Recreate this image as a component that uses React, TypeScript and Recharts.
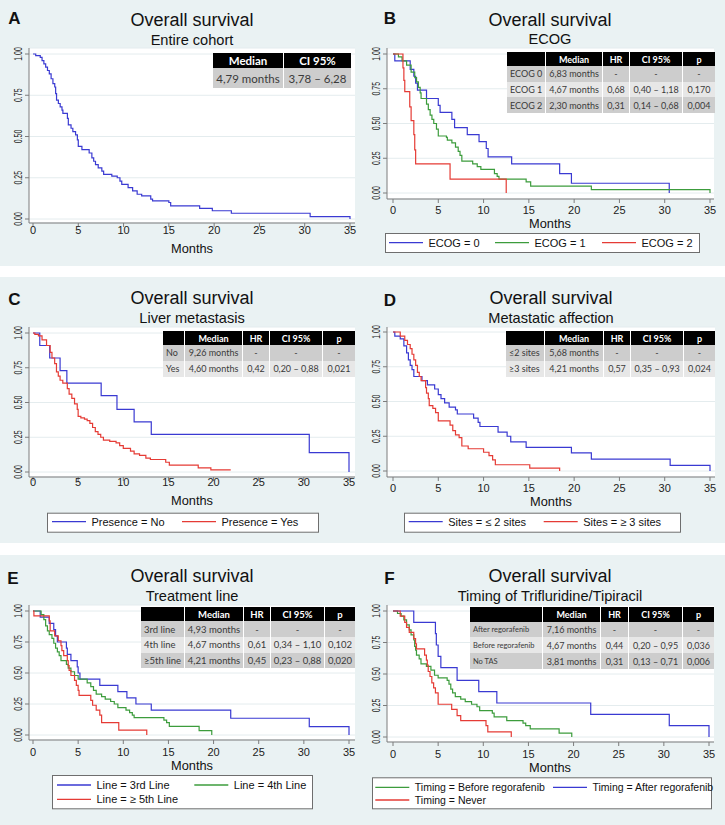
import { CartesianGrid, Line, LineChart, XAxis, YAxis } from 'recharts';

type Pt = [number, number];

const monthTicks = [0, 5, 10, 15, 20, 25, 30, 35];
const survTicks = [0, 0.25, 0.5, 0.75, 1];

// A - entire cohort
const osAll: Pt[] = [
  [0, 1], [0.3, 0.99], [0.8, 0.98], [1.0, 0.96], [1.2, 0.94], [1.4, 0.92], [1.6, 0.9], [1.8, 0.88],
  [2.0, 0.85], [2.2, 0.82], [2.4, 0.8], [2.5, 0.76], [2.6, 0.72], [2.8, 0.7], [3.0, 0.68], [3.2, 0.66],
  [3.3, 0.64], [3.8, 0.61], [3.9, 0.57], [4.2, 0.55], [4.4, 0.53], [4.7, 0.51], [4.9, 0.48], [5.0, 0.44],
  [5.4, 0.42], [6.2, 0.4], [6.5, 0.37], [6.7, 0.35], [6.9, 0.33], [7.2, 0.31], [7.6, 0.29], [7.8, 0.27],
  [8.7, 0.26], [9.3, 0.25], [9.6, 0.23], [9.8, 0.21], [10.5, 0.19], [11.0, 0.17], [11.5, 0.15], [12.0, 0.14],
  [13.0, 0.12], [13.2, 0.11], [15.0, 0.1], [15.2, 0.08], [18.4, 0.065], [19.8, 0.05], [21.9, 0.035],
  [30.6, 0.015], [35, 0.015], [35, 0],
];

// B - ECOG
const ecog0: Pt[] = [
  [0, 1], [0.2, 0.95], [1.9, 0.89], [2.3, 0.84], [2.5, 0.79], [2.7, 0.74], [3.7, 0.68], [5.0, 0.63],
  [5.2, 0.58], [6.5, 0.53], [6.8, 0.47], [8.2, 0.42], [9.5, 0.37], [10.3, 0.32], [10.5, 0.26], [13.1, 0.21],
  [18.4, 0.14], [19.7, 0.07], [30.5, 0],
];
const ecog1: Pt[] = [
  [0, 1], [0.6, 0.98], [1.0, 0.95], [1.5, 0.92], [2.0, 0.87], [2.4, 0.83], [2.6, 0.8], [2.8, 0.76],
  [3.0, 0.72], [3.1, 0.68], [3.7, 0.64], [3.9, 0.6], [4.1, 0.56], [4.3, 0.53], [4.5, 0.5], [4.8, 0.46],
  [5.0, 0.41], [5.9, 0.4], [6.0, 0.38], [6.5, 0.36], [6.9, 0.33], [7.2, 0.3], [7.4, 0.27], [7.6, 0.23],
  [8.8, 0.21], [9.3, 0.19], [9.7, 0.17], [11.2, 0.14], [11.5, 0.12], [11.7, 0.1], [14.7, 0.08], [15.2, 0.05],
  [21.9, 0.025], [35, 0],
];
const ecog2: Pt[] = [
  [0, 1], [1.1, 0.9], [1.2, 0.81], [1.3, 0.73], [1.85, 0.62], [2.0, 0.52], [2.3, 0.42], [2.4, 0.31],
  [2.5, 0.21], [6.3, 0.1], [12.5, 0],
];

// C - liver metastasis
const liverNo: Pt[] = [
  [0, 1], [0.75, 0.91], [1.85, 0.82], [3.0, 0.73], [3.75, 0.64], [7.55, 0.55], [9.3, 0.45], [11.2, 0.36],
  [13.1, 0.27], [30.6, 0.14], [35, 0],
];
const liverYes: Pt[] = [
  [0, 1], [0.2, 0.99], [0.6, 0.98], [1.0, 0.95], [1.5, 0.91], [1.9, 0.86], [2.1, 0.82], [2.4, 0.78],
  [2.6, 0.72], [2.8, 0.69], [3.0, 0.66], [3.3, 0.64], [3.8, 0.6], [4.0, 0.56], [4.3, 0.53], [4.6, 0.49],
  [4.9, 0.45], [5.0, 0.4], [5.3, 0.39], [5.7, 0.38], [6.0, 0.37], [6.3, 0.35], [6.6, 0.32], [6.9, 0.29],
  [7.2, 0.27], [7.5, 0.25], [7.8, 0.23], [8.5, 0.22], [9.2, 0.21], [9.6, 0.19], [10.0, 0.17], [10.8, 0.15],
  [11.2, 0.13], [11.8, 0.12], [12.5, 0.1], [13.0, 0.09], [14.7, 0.07], [15.1, 0.05], [18.3, 0.03],
  [19.7, 0.015], [21.9, 0.015],
];

// D - metastatic sites
const sitesLe2: Pt[] = [
  [0, 1], [0.2, 0.97], [0.8, 0.95], [1.2, 0.9], [1.5, 0.85], [1.7, 0.8], [1.9, 0.76], [2.1, 0.73],
  [2.3, 0.68], [3.2, 0.65], [3.8, 0.62], [4.6, 0.59], [5.0, 0.55], [5.3, 0.52], [5.7, 0.49], [6.2, 0.46],
  [6.9, 0.44], [7.1, 0.41], [8.9, 0.38], [9.4, 0.35], [9.6, 0.32], [11.6, 0.28], [12.6, 0.25], [13.0, 0.21],
  [14.7, 0.17], [19.7, 0.13], [21.9, 0.085], [30.6, 0.04], [35, 0],
];
const sitesGe3: Pt[] = [
  [0, 1], [0.8, 0.97], [1.3, 0.94], [1.6, 0.91], [1.9, 0.88], [2.1, 0.84], [2.3, 0.8], [2.5, 0.76],
  [2.7, 0.71], [2.9, 0.68], [3.1, 0.65], [3.6, 0.6], [3.7, 0.56], [3.9, 0.52], [4.0, 0.47], [4.4, 0.45],
  [4.7, 0.42], [5.0, 0.36], [6.3, 0.33], [6.6, 0.29], [6.9, 0.26], [7.3, 0.24], [7.6, 0.18], [8.3, 0.16],
  [10.0, 0.135], [10.6, 0.11], [11.0, 0.08], [11.3, 0.045], [15.1, 0.02], [18.4, 0],
];

// E - treatment line
const line3: Pt[] = [
  [0, 1], [0.8, 0.95], [1.8, 0.9], [2.3, 0.85], [2.5, 0.8], [2.7, 0.75], [3.7, 0.7], [3.8, 0.65],
  [4.2, 0.6], [4.9, 0.55], [5.0, 0.5], [5.2, 0.45], [7.4, 0.4], [9.4, 0.35], [10.4, 0.3], [11.4, 0.25],
  [13.1, 0.2], [21.9, 0.135], [30.6, 0.067], [35, 0],
];
const line4: Pt[] = [
  [0, 1], [0.9, 0.97], [1.2, 0.93], [1.4, 0.88], [1.6, 0.84], [1.8, 0.81], [2.1, 0.78], [2.3, 0.74],
  [2.5, 0.7], [2.7, 0.67], [2.9, 0.64], [3.1, 0.6], [3.7, 0.57], [3.9, 0.54], [4.2, 0.51], [4.6, 0.48],
  [5.0, 0.45], [6.0, 0.42], [6.4, 0.39], [6.7, 0.36], [7.0, 0.33], [7.6, 0.31], [8.0, 0.29], [8.6, 0.27],
  [9.0, 0.25], [9.4, 0.22], [10.3, 0.2], [10.7, 0.18], [11.0, 0.16], [11.2, 0.14], [14.5, 0.12],
  [14.8, 0.1], [15.1, 0.07], [18.4, 0.035], [19.8, 0],
];
const line5: Pt[] = [
  [0, 1], [0.1, 0.96], [1.8, 0.92], [1.9, 0.84], [2.4, 0.8], [2.8, 0.76], [3.1, 0.72], [3.2, 0.68],
  [3.4, 0.64], [3.8, 0.6], [3.9, 0.56], [4.0, 0.52], [4.2, 0.48], [4.6, 0.44], [4.8, 0.4], [5.0, 0.36],
  [5.1, 0.32], [6.4, 0.28], [6.6, 0.24], [7.0, 0.2], [7.4, 0.16], [7.6, 0.1], [9.5, 0.04], [12.6, 0],
];

// F - timing of trifluridine/tipiracil
const tasBefore: Pt[] = [
  [0, 1], [0.5, 0.98], [0.9, 0.96], [1.2, 0.93], [1.5, 0.89], [1.8, 0.85], [2.0, 0.81], [2.3, 0.77],
  [2.4, 0.72], [2.5, 0.69], [2.6, 0.65], [2.9, 0.62], [3.1, 0.58], [3.7, 0.56], [4.2, 0.53], [4.6, 0.49],
  [5.0, 0.47], [6.0, 0.45], [6.2, 0.42], [6.4, 0.38], [6.6, 0.35], [6.9, 0.32], [7.5, 0.3], [8.0, 0.28],
  [8.7, 0.26], [9.3, 0.24], [9.6, 0.21], [11.0, 0.19], [11.2, 0.16], [12.6, 0.13], [14.4, 0.11],
  [14.7, 0.09], [15.2, 0.065], [18.4, 0.03], [19.8, 0],
];
const tasAfter: Pt[] = [
  [0, 1], [2.3, 0.91], [4.7, 0.82], [4.8, 0.73], [5.0, 0.64], [5.3, 0.55], [7.1, 0.45], [9.5, 0.36],
  [11.5, 0.27], [21.9, 0.18], [30.6, 0.09], [35, 0],
];
const tasNever: Pt[] = [
  [0, 1], [0.8, 0.96], [1.3, 0.91], [1.5, 0.87], [1.8, 0.83], [2.3, 0.78], [2.5, 0.74], [2.6, 0.7],
  [3.5, 0.65], [3.7, 0.61], [3.8, 0.57], [3.9, 0.52], [4.1, 0.48], [4.3, 0.43], [4.5, 0.39], [4.7, 0.35],
  [5.0, 0.26], [6.5, 0.22], [7.1, 0.17], [7.5, 0.13], [10.3, 0.09], [10.5, 0.04], [13.1, 0],
];

const BG = '#eaf2f3';
const GRID = '#e4ecee';
const AXIS = '#7c7c7c';
const BLUE = '#3a3ad2';
const GREEN = '#3c9c3c';
const RED = '#e53b35';
const SANS = '"Liberation Sans", Arial, Helvetica, sans-serif';
const TABLE_FONT = 'Lato, "Open Sans", sans-serif';

interface SeriesDef { label: string; color: string; points: Pt[]; lx?: number; ly?: number }
interface TableDef {
  x: number; y: number; cols: number[]; headH: number; rowH: number[];
  head: string[]; rows: string[][]; font: number; firstFont?: number; firstLeft: boolean;
}
interface PanelDef {
  x: number; y: number; w: number; h: number;
  letter: string; letterX: number; letterY: number;
  cx: number; titleY: number; sub: string; subY: number; monthsY: number; tickY: number;
  plot: { l: number; r: number; t: number; b: number; padL: number; padR: number; padT: number; padB: number };
  series: SeriesDef[];
  legend?: { x: number; y: number; w: number; h: number; font: number };
  table: TableDef;
}

const head5 = ['', 'Median', 'HR', 'CI 95%', 'p'];

const panels: PanelDef[] = [
  {
    x: 0, y: 0, w: 362, h: 266, letter: 'A', letterX: 14.5, letterY: 18,
    cx: 192, titleY: 20, sub: 'Entire cohort', subY: 40, monthsY: 248, tickY: 230,
    plot: { l: 29, r: 355, t: 48, b: 223, padL: 4, padR: 5, padT: 6, padB: 4 },
    series: [{ label: 'All', color: BLUE, points: osAll }],
    table: {
      x: 213, y: 53, cols: [71, 67], headH: 15, rowH: [20], head: ['Median', 'CI 95%'],
      rows: [['4,79 months', '3,78 – 6,28']], font: 11.5, firstLeft: false,
    },
  },
  {
    x: 362, y: 0, w: 363, h: 266, letter: 'B', letterX: 28, letterY: 18.3,
    cx: 188, titleY: 20, sub: 'ECOG', subY: 39, monthsY: 223, tickY: 209.5,
    plot: { l: 25, r: 352, t: 48, b: 199, padL: 6, padR: 4, padT: 6, padB: 6 },
    series: [
      { label: 'ECOG = 0', color: BLUE, points: ecog0, lx: 27, ly: 242.7 },
      { label: 'ECOG = 1', color: GREEN, points: ecog1, lx: 133, ly: 242.7 },
      { label: 'ECOG = 2', color: RED, points: ecog2, lx: 240, ly: 242.7 },
    ],
    legend: { x: 23, y: 233, w: 314, h: 19, font: 11 },
    table: {
      x: 145, y: 52, cols: [39, 57, 27, 53, 32], headH: 14, rowH: [15.5, 15.5, 16], head: head5,
      rows: [
        ['ECOG 0', '6,83 months', '-', '-', '-'],
        ['ECOG 1', '4,67 months', '0,68', '0,40 – 1,18', '0,170'],
        ['ECOG 2', '2,30 months', '0,31', '0,14 – 0,68', '0,004'],
      ],
      font: 9, firstLeft: true,
    },
  },
  {
    x: 0, y: 277, w: 362, h: 266, letter: 'C', letterX: 14.5, letterY: 22,
    cx: 192, titleY: 21.3, sub: 'Liver metastasis', subY: 41, monthsY: 223.3, tickY: 205.3,
    plot: { l: 29, r: 355, t: 50, b: 200, padL: 4, padR: 6, padT: 6, padB: 5 },
    series: [
      { label: 'Presence = No', color: BLUE, points: liverNo, lx: 52, ly: 244.7 },
      { label: 'Presence = Yes', color: RED, points: liverYes, lx: 182, ly: 244.7 },
    ],
    legend: { x: 47, y: 235.7, w: 271, h: 19, font: 11 },
    table: {
      x: 163, y: 54, cols: [22, 58, 27, 53, 32], headH: 14, rowH: [15.5, 16], head: head5,
      rows: [
        ['No', '9,26 months', '-', '-', '-'],
        ['Yes', '4,60 months', '0,42', '0,20 – 0,88', '0,021'],
      ],
      font: 9, firstLeft: true,
    },
  },
  {
    x: 362, y: 277, w: 363, h: 266, letter: 'D', letterX: 28, letterY: 23.5,
    cx: 189, titleY: 21, sub: 'Metastatic affection', subY: 40.7, monthsY: 224, tickY: 210.5,
    plot: { l: 25, r: 353, t: 50, b: 200, padL: 6, padR: 5, padT: 5, padB: 6 },
    series: [
      { label: 'Sites = ≤ 2 sites', color: BLUE, points: sitesLe2, lx: 46.7, ly: 244.7 },
      { label: 'Sites = ≥ 3 sites', color: RED, points: sitesGe3, lx: 181.7, ly: 244.7 },
    ],
    legend: { x: 42, y: 235.7, w: 276, h: 19, font: 11 },
    table: {
      x: 144, y: 54, cols: [39, 59, 27, 53, 31], headH: 14, rowH: [15.5, 16], head: head5,
      rows: [
        ['≤2 sites', '5,68 months', '-', '-', '-'],
        ['≥3 sites', '4,21 months', '0,57', '0,35 – 0,93', '0,024'],
      ],
      font: 9, firstLeft: true,
    },
  },
  {
    x: 0, y: 555, w: 362, h: 270, letter: 'E', letterX: 13, letterY: 23,
    cx: 192, titleY: 21.3, sub: 'Treatment line', subY: 41, monthsY: 210, tickY: 196.5,
    plot: { l: 29, r: 355, t: 50, b: 185, padL: 4, padR: 6, padT: 6, padB: 5 },
    series: [
      { label: 'Line = 3rd Line', color: BLUE, points: line3, lx: 57, ly: 230 },
      { label: 'Line = 4th Line', color: GREEN, points: line4, lx: 194.3, ly: 230 },
      { label: 'Line = ≥ 5th Line', color: RED, points: line5, lx: 57, ly: 244.3 },
    ],
    legend: { x: 52, y: 220, w: 260, h: 33.3, font: 11 },
    table: {
      x: 141, y: 52, cols: [44, 59, 27, 54, 30], headH: 14, rowH: [16, 15.5, 15.5], head: head5,
      rows: [
        ['3rd line', '4,93 months', '-', '-', '-'],
        ['4th line', '4,67 months', '0,61', '0,34 – 1,10', '0,102'],
        ['≥5th line', '4,21 months', '0,45', '0,23 – 0,88', '0,020'],
      ],
      font: 9.5, firstLeft: true,
    },
  },
  {
    x: 362, y: 555, w: 363, h: 270, letter: 'F', letterX: 27.5, letterY: 23.5,
    cx: 188, titleY: 21, sub: 'Timing of Trifluridine/Tipiracil', subY: 41, monthsY: 212, tickY: 199,
    plot: { l: 25, r: 352, t: 50, b: 187, padL: 6, padR: 5, padT: 6, padB: 5 },
    series: [
      { label: 'Timing = Before regorafenib', color: GREEN, points: tasBefore, lx: 13.3, ly: 232.3 },
      { label: 'Timing = After regorafenib', color: BLUE, points: tasAfter, lx: 191, ly: 232.3 },
      { label: 'Timing = Never', color: RED, points: tasNever, lx: 13.3, ly: 245 },
    ],
    legend: { x: 10, y: 222.3, w: 339, h: 31, font: 10.5 },
    table: {
      x: 108, y: 52, cols: [73, 58, 28, 54, 31], headH: 15, rowH: [15, 16, 16], head: head5,
      rows: [
        ['After regorafenib', '7,16 months', '-', '-', '-'],
        ['Before regorafenib', '4,67 months', '0,44', '0,20 – 0,95', '0,036'],
        ['No TAS', '3,81 months', '0,31', '0,13 – 0,71', '0,006'],
      ],
      font: 9, firstFont: 7.5, firstLeft: true,
    },
  },
];

const toRows = (pts: Pt[]) => pts.map(([t, s]) => ({ t, s }));

function StatTable({ t }: { t: TableDef }) {
  const cell = (i: number, last: boolean) => ({
    width: t.cols[i],
    boxSizing: 'border-box' as const,
    borderRight: last ? 'none' : '1px solid #ffffff',
    display: 'flex',
    alignItems: 'center',
    justifyContent: t.firstLeft && i === 0 ? 'flex-start' : 'center',
    paddingLeft: t.firstLeft && i === 0 ? 3 : 0,
    whiteSpace: 'nowrap' as const,
  });
  return (
    <div style={{ position: 'absolute', left: t.x, top: t.y, fontFamily: TABLE_FONT }}>
      <div style={{ display: 'flex', height: t.headH, background: '#000' }}>
        {t.head.map((h, i) => (
          <div key={i} style={{ ...cell(i, i === t.head.length - 1), color: '#fff', fontWeight: 700, fontSize: t.font }}>
            {h}
          </div>
        ))}
      </div>
      {t.rows.map((r, ri) => (
        <div key={ri} style={{ display: 'flex', height: t.rowH[ri], background: ri % 2 === 0 ? '#cdcdcd' : '#e7e7e7' }}>
          {r.map((c, i) => (
            <div
              key={i}
              style={{
                ...cell(i, i === r.length - 1),
                color: '#3a3a3a',
                fontSize: i === 0 && t.firstFont ? t.firstFont : t.font,
              }}
            >
              {c}
            </div>
          ))}
        </div>
      ))}
    </div>
  );
}

function Panel({ p }: { p: PanelDef }) {
  const pl = p.plot;
  return (
    <div style={{ position: 'absolute', left: p.x, top: p.y, width: p.w, height: p.h, background: BG }}>
      <LineChart width={p.w} height={p.h} margin={{ top: pl.t, right: p.w - pl.r, bottom: 0, left: 0 }}>
        <CartesianGrid vertical={false} fill="#ffffff" stroke={GRID} />
        <XAxis
          type="number"
          dataKey="t"
          domain={[0, 35]}
          ticks={monthTicks}
          interval={0}
          height={p.h - pl.b}
          padding={{ left: pl.padL, right: pl.padR }}
          stroke={AXIS}
          tickSize={4}
          tickMargin={0}
          tick={(tp: any) => (
            <text x={tp.x} y={p.tickY} textAnchor="middle" dominantBaseline="central" fontSize={11} fontFamily={SANS} fill="#222">
              {tp.payload.value}
            </text>
          )}
        />
        <YAxis
          type="number"
          domain={[0, 1]}
          ticks={survTicks}
          interval={0}
          width={pl.l}
          padding={{ top: pl.padT, bottom: pl.padB }}
          stroke={AXIS}
          tickSize={4}
          tickMargin={0}
          tick={(tp: any) => {
            const cx = tp.x - 7.5;
            return (
              <text
                x={cx}
                y={tp.y}
                transform={`rotate(-90 ${cx} ${tp.y})`}
                textAnchor="middle"
                dominantBaseline="central"
                fontSize={10.5}
                textLength={13.5}
                lengthAdjust="spacingAndGlyphs"
                fontFamily={SANS}
                fill="#222"
              >
                {Number(tp.payload.value).toFixed(2)}
              </text>
            );
          }}
        />
        {p.series.map((s) => (
          <Line
            key={s.label}
            data={toRows(s.points)}
            dataKey="s"
            type="stepAfter"
            stroke={s.color}
            strokeWidth={1.2}
            dot={false}
            activeDot={false}
            isAnimationActive={false}
          />
        ))}
      </LineChart>
      <svg width={p.w} height={p.h} style={{ position: 'absolute', left: 0, top: 0, pointerEvents: 'none' }} fontFamily={SANS}>
        <text x={p.letterX} y={p.letterY} textAnchor="middle" dominantBaseline="central" fontSize={17} fontWeight={700} fill="#111">
          {p.letter}
        </text>
        <text x={p.cx} y={p.titleY} textAnchor="middle" dominantBaseline="central" fontSize={18} fill="#111">
          Overall survival
        </text>
        <text x={p.cx} y={p.subY} textAnchor="middle" dominantBaseline="central" fontSize={14.6} fill="#111">
          {p.sub}
        </text>
        <text x={p.cx} y={p.monthsY} textAnchor="middle" dominantBaseline="central" fontSize={12.8} fill="#111">
          Months
        </text>
        {p.legend && (
          <g>
            <rect x={p.legend.x + 0.5} y={p.legend.y + 0.5} width={p.legend.w} height={p.legend.h} fill="#ffffff" stroke="#6e6e6e" />
            {p.series.map((s) => (
              <g key={s.label}>
                <line x1={s.lx} x2={(s.lx ?? 0) + 34} y1={s.ly} y2={s.ly} stroke={s.color} strokeWidth={1.3} />
                <text x={(s.lx ?? 0) + 39.5} y={s.ly} dominantBaseline="central" fontSize={p.legend!.font} fill="#111">
                  {s.label}
                </text>
              </g>
            ))}
          </g>
        )}
      </svg>
      <StatTable t={p.table} />
    </div>
  );
}

export default function App() {
  return (
    <div style={{ position: 'absolute', left: 0, top: 0, width: 725, height: 825, background: '#ffffff', fontFamily: SANS }}>
      {panels.map((p) => (
        <Panel key={p.letter} p={p} />
      ))}
    </div>
  );
}
